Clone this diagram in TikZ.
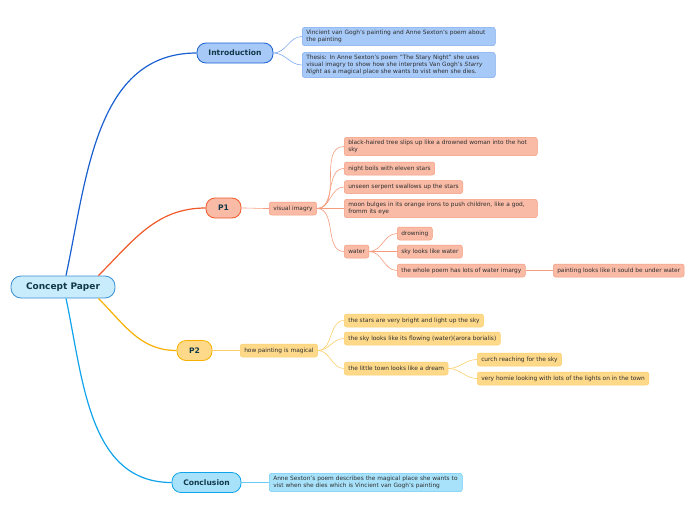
\documentclass[tikz,border=0pt]{standalone}
\usepackage{fontspec}
\setmainfont{DejaVu Sans}
\usetikzlibrary{positioning}

\definecolor{rootfill}{HTML}{C8ECFB}
\definecolor{rootline}{HTML}{3A8ED4}
\definecolor{introfill}{HTML}{A6C9F7}
\definecolor{introline}{HTML}{1A5FD0}
\definecolor{introleaf}{HTML}{7FAAF0}
\definecolor{pafill}{HTML}{F9BBA6}
\definecolor{paline}{HTML}{F0582A}
\definecolor{paleaf}{HTML}{F59B7E}
\definecolor{pbfill}{HTML}{FED98A}
\definecolor{pbline}{HTML}{F6B100}
\definecolor{pbleaf}{HTML}{FBCE6A}
\definecolor{ccfill}{HTML}{A8E2FA}
\definecolor{ccline}{HTML}{0EA3EA}
\definecolor{ccleaf}{HTML}{6CCBF4}
\definecolor{topictext}{HTML}{10394A}
\definecolor{leaftext}{HTML}{2E2E2E}

\begin{document}
\begin{tikzpicture}
 [x=1pt, y=-1pt,
  topic/.style={rectangle, rounded corners=9pt, draw, line width=0.8pt,
                minimum height=20pt, text=topictext,
                font=\fontsize{7.6}{8.5}\selectfont\bfseries},
  leaf/.style={rectangle, rounded corners=2.5pt, draw, line width=0.5pt,
               anchor=west, align=left, inner xsep=4pt, inner ysep=3pt,
               minimum height=13pt, text=leaftext,
               font=\fontsize{5.85}{6.8}\selectfont},
  wide/.style={leaf, text width=185pt},
  intro/.style={fill=introfill, draw=introleaf},
  pa/.style={fill=pafill, draw=paleaf},
  pb/.style={fill=pbfill, draw=pbleaf},
  cc/.style={fill=ccfill, draw=ccleaf},
  branch/.style={line width=1.2pt},
  twig/.style={line width=0.6pt, out=0, in=180}]
 \useasboundingbox (0,0) rectangle (696,520);

 % main topics
 \node[topic, fill=rootfill, draw=rootline, minimum width=104pt, minimum height=22pt,
       rounded corners=10pt, font=\fontsize{9}{10}\selectfont\bfseries]
       (root) at (63,287) {Concept Paper};
 \node[topic, fill=introfill, draw=introline, minimum width=76pt] (introduction) at (235,53) {Introduction};
 \node[topic, fill=pafill, draw=paline, minimum width=35pt] (p1) at (223.5,208) {P1};
 \node[topic, fill=pbfill, draw=pbline, minimum width=35pt] (p2) at (194.5,350.5) {P2};
 \node[topic, fill=ccfill, draw=ccline, minimum width=69pt] (conclusion) at (206.5,482.5) {Conclusion};

 % introduction
 \node[wide, intro] (intro1) at (302,36.5)
   {Vincient van Gogh's painting and Anne Sexton's poem about\\the painting};
 \node[wide, intro] (thesis) at (302,65)
   {Thesis: In Anne Sexton's poem "The Stary Night" she uses\\visual imagry to show how she interprets Van Gogh's \emph{Starry}\\\emph{Night} as a magical place she wants to vist when she dies.};

 % P1
 \node[leaf, pa] (imagry) at (269,208.5) {visual imagry};
 \node[wide, pa] (tree) at (344,146.5)
   {black-haired tree slips up like a drowned woman into the hot\\sky};
 \node[leaf, pa] (boils) at (344,168.5) {night boils with eleven stars};
 \node[leaf, pa] (serpent) at (344,187) {unseen serpent swallows up the stars};
 \node[wide, pa] (moon) at (344,208.5)
   {moon bulges in its orange irons to push children, like a god,\\fromm its eye};
 \node[leaf, pa] (water) at (344,251.5) {water};
 \node[leaf, pa] (drowning) at (397,233.5) {drowning};
 \node[leaf, pa] (skywater) at (397,251.5) {sky looks like water};
 \node[leaf, pa] (wholepoem) at (397,270.5) {the whole poem has lots of water imargy};
 \node[leaf, pa] (underwater) at (553,270.5) {painting looks like it sould be under water};

 % P2
 \node[leaf, pb] (magical) at (240,350.5) {how painting is magical};
 \node[leaf, pb] (stars) at (344,320.5) {the stars are very bright and light up the sky};
 \node[leaf, pb] (flowing) at (344,338.5) {the sky looks like its flowing (water)(arora borialis)};
 \node[leaf, pb] (town) at (344,368.5) {the little town looks like a dream};
 \node[leaf, pb] (curch) at (477,359.5) {curch reaching for the sky};
 \node[leaf, pb] (homie) at (477,378.5) {very homie looking with lots of the lights on in the town};

 % conclusion
 \node[wide, cc] (describes) at (269,482.5)
   {Anne Sexton's poem describes the magical place she wants to\\vist when she dies which is Vincient van Gogh's painting};

 % branches from the root
 \draw[branch, introline] ([xshift=3pt]root.north) to[out=78, in=180] (introduction.west);
 \draw[branch, paline] ([xshift=-17pt]root.north east) to[out=45, in=180] (p1.west);
 \draw[branch, pbline] ([xshift=-17pt]root.south east) to[out=-45, in=180] (p2.west);
 \draw[branch, ccline] ([xshift=3pt]root.south) to[out=-78, in=180] (conclusion.west);

 % twigs
 \foreach \leafnode in {intro1, thesis}
   \draw[twig, introleaf] (introduction.east) to (\leafnode.west);
 \draw[twig, paleaf] (p1.east) to (imagry.west);
 \foreach \leafnode in {tree, boils, serpent, moon, water}
   \draw[twig, paleaf] (imagry.east) to (\leafnode.west);
 \foreach \leafnode in {drowning, skywater, wholepoem}
   \draw[twig, paleaf] (water.east) to (\leafnode.west);
 \draw[twig, paleaf] (wholepoem.east) to (underwater.west);
 \draw[twig, pbleaf] (p2.east) to (magical.west);
 \foreach \leafnode in {stars, flowing, town}
   \draw[twig, pbleaf] (magical.east) to (\leafnode.west);
 \foreach \leafnode in {curch, homie}
   \draw[twig, pbleaf] (town.east) to (\leafnode.west);
 \draw[twig, ccleaf] (conclusion.east) to (describes.west);
\end{tikzpicture}
\end{document}
